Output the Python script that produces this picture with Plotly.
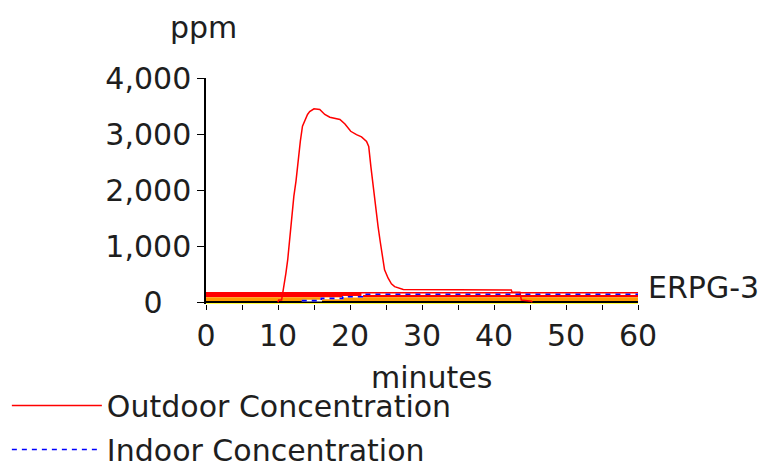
import plotly.graph_objects as go

# ---- data ----
outdoor_min = [10.0, 10.1, 10.5, 10.75, 11.1, 11.35, 11.6, 11.9, 12.2, 12.5, 12.8, 13.1, 13.4,
               13.75, 14.1, 14.4, 15.0, 15.8, 16.5, 17.2, 18.6, 19.3, 20.1, 20.9, 21.6, 22.3,
               22.6, 22.9, 23.2, 23.6, 23.9, 24.2, 24.5, 24.8, 25.3, 25.75, 26.2, 27.4, 42.4,
               42.5, 43.6, 43.8, 45.2, 45.3]
outdoor_ppm = [0, 40, 40, 220, 520, 760, 1080, 1530, 1890, 2160, 2540, 2870, 3140,
               3260, 3350, 3400, 3450, 3440, 3350, 3300, 3260, 3180, 3050, 2990, 2950, 2870,
               2780, 2420, 2070, 1710, 1350, 1080, 820, 580, 430, 330, 280, 230, 220,
               180, 180, 40, 20, 0]

indoor_min = [13.3, 16.0, 16.0, 19.0, 19.0, 21.7, 21.7, 60.0]
indoor_ppm = [30, 30, 70, 70, 100, 100, 143, 143]

# threat level bands (ppm)
erpg3_band = [90, 185]
erpg2_band = [0, 90]
erpg1_band = [-25, 0]
erpg_label = "ERPG-3"

y_ticks = [0, 1000, 2000, 3000, 4000]
y_ticktext = ["0\u00a0\u00a0\u00a0", "1,000", "2,000", "3,000", "4,000"]
x_ticks = [0, 10, 20, 30, 40, 50, 60]

FONT = "DejaVu Sans"
TXT = "#1e1e1e"
FS = 30

fig = go.Figure()

# white underlay for the dashed indoor line
fig.add_trace(go.Scatter(x=indoor_min, y=indoor_ppm, mode="lines",
                         line=dict(color="white", width=1.6), showlegend=False,
                         hoverinfo="skip"))
fig.add_trace(go.Scatter(x=outdoor_min, y=outdoor_ppm, mode="lines",
                         name="Outdoor Concentration",
                         line=dict(color="#ff0000", width=1.5), legendgroup="a"))
fig.add_trace(go.Scatter(x=indoor_min, y=indoor_ppm, mode="lines",
                         name="Indoor Concentration",
                         line=dict(color="#0000ff", width=1.6, dash="5px,5px"), legendgroup="b"))

for band, col in [(erpg3_band, "#ff0000"), (erpg2_band, "#ff9900"), (erpg1_band, "#ffff00")]:
    fig.add_shape(type="rect", xref="x", yref="y", x0=0, x1=60, y0=band[0], y1=band[1],
                  fillcolor=col, line=dict(width=0), layer="below")

fig.add_annotation(text=erpg_label, xref="x", yref="y", x=60, y=erpg3_band[1],
                   xanchor="left", yanchor="middle", xshift=8, yshift=4, showarrow=False,
                   font=dict(family=FONT, size=FS, color=TXT))
fig.add_annotation(text="ppm", xref="paper", yref="paper", x=-0.005, y=1.225,
                   xanchor="center", yanchor="middle", showarrow=False,
                   font=dict(family=FONT, size=FS, color=TXT))
fig.add_annotation(text="minutes", xref="paper", yref="paper", x=0.521, y=-0.327,
                   xanchor="center", yanchor="middle", showarrow=False,
                   font=dict(family=FONT, size=FS, color=TXT))

fig.update_layout(
    width=763, height=464,
    margin=dict(l=206, r=125, t=78, b=160, autoexpand=False),
    paper_bgcolor="white", plot_bgcolor="white",
    font=dict(family=FONT, size=FS, color=TXT),
    showlegend=True,
    legend=dict(xref="container", yref="container", x=0.009, y=0.182,
                xanchor="left", yanchor="top", itemwidth=90,
                tracegroupgap=2, font=dict(family=FONT, size=FS, color=TXT),
                bgcolor="rgba(0,0,0,0)"),
    xaxis=dict(range=[0, 60], tickvals=x_ticks, showgrid=False, zeroline=False,
               showline=False, ticks="outside", ticklen=5, tickcolor="black",
               tickangle=0,
               minor=dict(dtick=5, ticks="outside", ticklen=5, tickcolor="black"),
               tickfont=dict(family=FONT, size=FS, color=TXT)),
    yaxis=dict(range=[-30, 4000], tickvals=y_ticks, ticktext=y_ticktext,
               showgrid=False, zeroline=True, zerolinecolor="black", zerolinewidth=1.5,
               showline=True, linecolor="black", linewidth=1.5,
               ticks="outside", ticklen=7, tickcolor="black",
               tickfont=dict(family=FONT, size=FS, color=TXT)),
)

fig.write_html("out.html")
